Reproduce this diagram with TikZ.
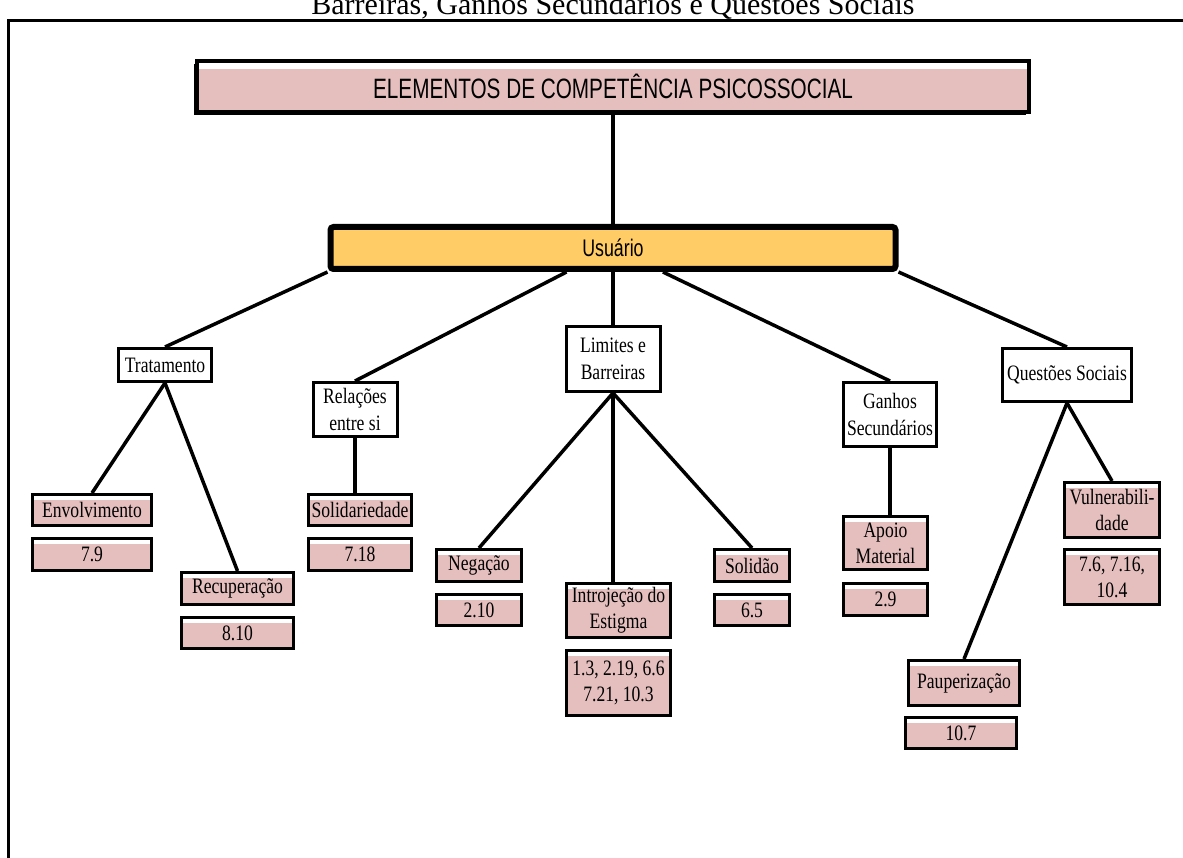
\documentclass[tikz,border=0pt]{standalone}
\usepackage{fontspec}
\setmainfont{Liberation Serif}[FakeStretch=0.8]
\newfontfamily\titlefont{Liberation Serif}
\newfontfamily\narrowsans{Liberation Sans}[FakeStretch=0.74]
\usetikzlibrary{shadows}
\definecolor{rosy}{RGB}{229,190,190}
\definecolor{amber}{RGB}{255,204,102}

\begin{document}
\begin{tikzpicture}
    [
    x=1pt,y=-1pt,
    conn/.style={line width=3.5pt},
    topic/.style={draw,line width=3pt,fill=white,align=center,inner sep=1pt,
      font=\fontsize{22}{27}\selectfont},
    leaf/.style={draw,line width=3pt,fill=rosy,align=center,inner sep=1pt,
      font=\fontsize{22}{26}\selectfont,
      path picture={\fill[white] (path picture bounding box.north west)
        rectangle ([yshift=-5pt]path picture bounding box.north east);}}
    ]
    \useasboundingbox (0,0) rectangle (1183,858);
    \draw [line width=3pt] (8,858) -- (8,21) -- (1183,21);
    \node (title) at (613,15) [anchor=base,font=\titlefont\fontsize{30}{36}\selectfont] {Barreiras, Ganhos Secundários e Questões Sociais};

    \node (elem) at (613,86.5) [draw,line width=4pt,fill=rosy,minimum width=832pt,minimum height=51pt,
      drop shadow={shadow xshift=-3pt,shadow yshift=-3pt,fill=black,opacity=1},
      path picture={\fill[white] (path picture bounding box.north west)
        rectangle ([yshift=-8pt]path picture bounding box.north east);},
      font=\narrowsans\fontsize{28}{32}\selectfont] {ELEMENTOS DE COMPETÊNCIA PSICOSSOCIAL};
    \node (usu) at (613,248) [draw,line width=6pt,fill=amber,rounded corners=3pt,minimum width=565pt,
      minimum height=42pt,font=\narrowsans\fontsize{24}{28}\selectfont] {Usuário};
    \draw [conn] (elem) to (usu);

    \node (trat) at (165,365) [topic,minimum width=93pt,minimum height=33pt] {Tratamento};
    \node (rel) at (355,409.5) [topic,minimum width=84pt,minimum height=54pt] {Relações\\entre si};
    \node (lim) at (613,359) [topic,minimum width=94pt,minimum height=65pt] {Limites e\\Barreiras};
    \node (gan) at (890,414.5) [topic,minimum width=93pt,minimum height=64pt] {Ganhos\\Secundários};
    \node (que) at (1067,375) [topic,minimum width=129pt,minimum height=53pt] {Questões Sociais};
    \draw [conn] (usu.south west) to (trat.north);
    \draw [conn] (usu) to (rel.north);
    \draw [conn] (usu) to (lim);
    \draw [conn] (usu) to (gan.north);
    \draw [conn] (usu.south east) to (que.north);

    \node (env) at (92,510) [leaf,minimum width=119pt,minimum height=31pt] {Envolvimento};
    \node (env1) at (92,554.5) [leaf,minimum width=119pt,minimum height=32pt] {7.9};
    \node (rec) at (237.5,588.5) [leaf,minimum width=112pt,minimum height=32pt] {Recuperação};
    \node (rec1) at (237.5,633) [leaf,minimum width=112pt,minimum height=31pt] {8.10};
    \draw [conn] (trat.south) to (env.north);
    \draw [conn] (trat.south) to (rec.north);

    \node (sol) at (360,510) [leaf,minimum width=103pt,minimum height=31pt] {Solidariedade};
    \node (sol1) at (360,554.5) [leaf,minimum width=103pt,minimum height=32pt] {7.18};
    \draw [conn] (rel.south) to (rel.south |- sol.north);

    \node (neg) at (479,565.5) [leaf,minimum width=85pt,minimum height=32pt] {Negação};
    \node (neg1) at (479,610) [leaf,minimum width=85pt,minimum height=31pt] {2.10};
    \node (intro) at (618.5,610.5) [leaf,minimum width=104pt,minimum height=54pt] {Introjeção do\\Estigma};
    \node (intro1) at (618.5,683) [leaf,minimum width=104pt,minimum height=65pt] {1.3, 2.19, 6.6\\7.21, 10.3};
    \node (soli) at (752,565.5) [leaf,minimum width=75pt,minimum height=32pt] {Solidão};
    \node (soli1) at (752,610) [leaf,minimum width=75pt,minimum height=31pt] {6.5};
    \draw [conn] (lim.south) to (neg.north);
    \draw [conn] (lim.south) to (lim.south |- intro.north);
    \draw [conn] (lim.south) to (soli.north);

    \node (apo) at (885.5,543) [leaf,minimum width=84pt,minimum height=53pt] {Apoio\\Material};
    \node (apo1) at (885.5,599.5) [leaf,minimum width=84pt,minimum height=32pt] {2.9};
    \draw [conn] (gan.south) to (gan.south |- apo.north);

    \node (vul) at (1112,510) [leaf,minimum width=95pt,minimum height=55pt] {Vulnerabili-\\dade};
    \node (vul1) at (1112,577) [leaf,minimum width=95pt,minimum height=55pt] {7.6, 7.16,\\10.4};
    \node (pau) at (964,683) [leaf,minimum width=111pt,minimum height=45pt] {Pauperização};
    \node (pau1) at (961,733) [leaf,minimum width=111pt,minimum height=31pt] {10.7};
    \draw [conn] (que.south) to (vul.north);
    \draw [conn] (que.south) to (pau.north);
  \end{tikzpicture}
\end{document}
